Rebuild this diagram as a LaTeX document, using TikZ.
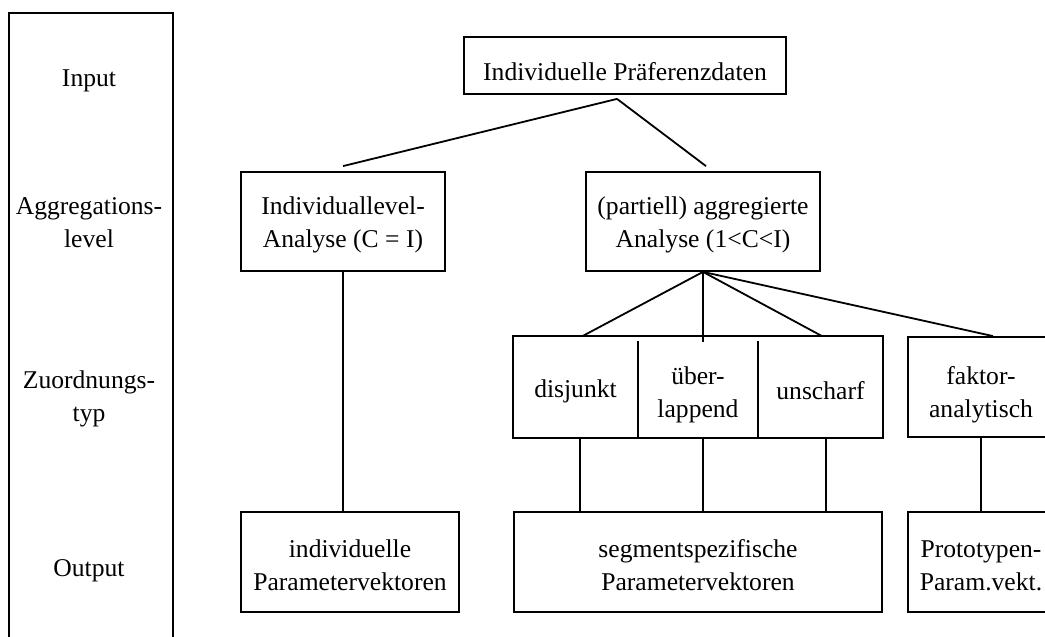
\documentclass[tikz,border=0pt]{standalone}
\usepackage{fontspec}
\setmainfont{Liberation Serif}
\newcommand{\dropto}[1]{\rule{0pt}{#1}}

\begin{document}
\begin{tikzpicture}[x=1pt, y=-1pt, line width=1.8pt,
  every node/.style={font=\fontsize{25.6}{33}\selectfont, align=center, inner sep=0pt},
  box/.style={draw, minimum height=100pt},
  cell/.style={minimum height=100pt, minimum width=122pt}]
\useasboundingbox (0,0) rectangle (1045,637);

% Ebenen links
\draw (9,660) -- (9,13) -- (173,13) -- (173,660);
\node at (89,81) (lin) {Input};
\node at (89,223) (lagg) {Aggregations-\\level};
\node at (89,399) (lzuo) {Zuordnungs-\\typ};
\node at (89,571) (lout) {Output};

% Baum
\node[box, minimum height=57pt, minimum width=322pt] at (625,65.5) (pref) {\dropto{29.5pt}Individuelle Präferenzdaten};
\node[box, minimum width=204pt, minimum height=99pt] at (343,221.5) (indiv) {\dropto{25.5pt}Individuallevel-\\Analyse (C = I)};
\node[box, minimum width=234pt, minimum height=99pt] at (703,221.5) (aggr) {\dropto{25.5pt}(partiell) aggregierte\\Analyse (1<C<I)};

\node[cell, minimum width=123pt] at (575.5,387) (disj) {\dropto{26pt}disjunkt};
\node[cell] at (698,387) (ueber) {\dropto{33.5pt}über-\\lappend};
\node[cell, minimum width=123pt] at (820.5,387) (unsch) {\dropto{26pt}unscharf};
\draw (disj.north west) rectangle (unsch.south east);
\draw ([yshift=-5pt]disj.north east) -- (disj.south east);
\draw ([yshift=-5pt]unsch.north west) -- (unsch.south west);
\node[box, minimum width=146pt] at (981,387) (fakt) {\dropto{33.5pt}faktor-\\analytisch};

\node[box, minimum width=218pt] at (350,562) (iout) {\dropto{24.5pt}individuelle\\Parametervektoren};
\node[box, minimum width=368pt] at (698,562) (sout) {\dropto{24.5pt}segmentspezifische\\Parametervektoren};
\node[box, minimum width=146pt] at (981,562) (pout) {\dropto{24.5pt}Prototypen-\\Param.vekt.};

% Verbindungen
\draw ([xshift=-8pt,yshift=-4pt]pref.south) -- ([yshift=5pt]indiv.north);
\draw ([xshift=-8pt,yshift=-4pt]pref.south) -- ([xshift=3pt,yshift=5pt]aggr.north);
\draw (indiv.south) -- (iout.north -| indiv.south);
\draw (aggr.south) -- ([xshift=7pt]disj.north);
\draw (aggr.south) -- ([yshift=-6pt]aggr.south |- ueber.north);
\draw (aggr.south) -- ([xshift=1.5pt]unsch.north);
\draw (aggr.south) -- ([xshift=12pt]fakt.north);
\draw ([xshift=4.5pt]disj.south) -- ([xshift=4.5pt]disj.south |- sout.north);
\draw (aggr.south |- ueber.south) -- (aggr.south |- sout.north);
\draw ([xshift=5.5pt]unsch.south) -- ([xshift=5.5pt]unsch.south |- sout.north);
\draw (fakt) -- (pout);
\end{tikzpicture}
\end{document}
